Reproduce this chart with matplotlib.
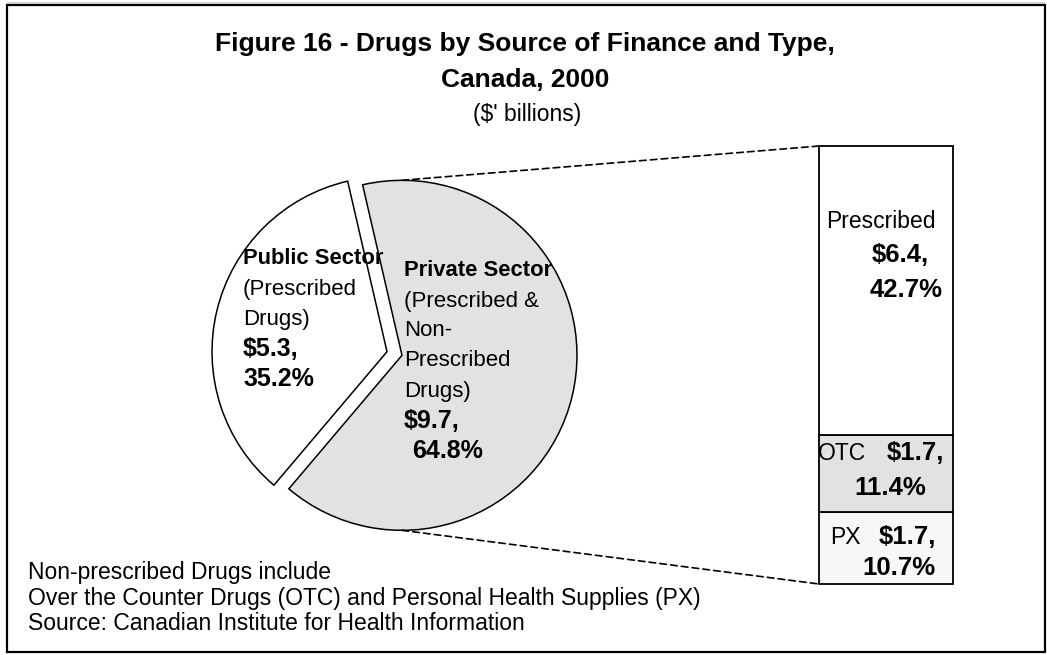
import matplotlib.pyplot as plt
import numpy as np
from matplotlib.patches import Rectangle, ConnectionPatch

plt.rcParams['font.family'] = ['Liberation Sans', 'DejaVu Sans']

W, H = 1047, 655

# pie: source of finance
sector_names = ['Public Sector', 'Private Sector']
sector_notes = [['(Prescribed', 'Drugs)'],
                ['(Prescribed &', 'Non-', 'Prescribed', 'Drugs)']]
sector_amount = [5.3, 9.7]
sector_pct = [35.2, 64.8]
sector_colors = ['white', '#e2e2e2']

# bar: private sector split by drug type (bottom to top)
type_names = ['PX', 'OTC', 'Prescribed']
type_amount = [1.7, 1.7, 6.4]
type_pct = [10.7, 11.4, 42.7]
type_colors = ['#f7f7f7', '#e2e2e2', 'white']

title = 'Figure 16 - Drugs by Source of Finance and Type,\nCanada, 2000'
subtitle = "($' billions)"
footnotes = ['Non-prescribed Drugs include',
             'Over the Counter Drugs (OTC) and Personal Health Supplies (PX)',
             'Source: Canadian Institute for Health Information']

fig = plt.figure(figsize=(W / 100, H / 100), dpi=100)
ax = fig.add_axes([0, 0, 1, 1])

# y runs downward so everything is placed in pixel-like units
wedges, _ = ax.pie(sector_pct, colors=sector_colors, startangle=-103,
                   counterclock=False, radius=175, center=(394.5, 353.5),
                   explode=[7.7, 7.7],
                   wedgeprops=dict(edgecolor='black', linewidth=1.1))
ax.set_xlim(0, W)
ax.set_ylim(H, 0)
ax.axis('off')

# outer frame
ax.plot([7, 1045], [2.5, 2.5], color='#c8c8c8', linewidth=1.2,
        solid_capstyle='butt', clip_on=False)
ax.add_patch(Rectangle((7, 5), 1038, 647, fill=False, edgecolor='black',
                       linewidth=1.6, clip_on=False))

ax.text(525, 62, title, ha='center', va='center', fontsize=19,
        fontweight='bold', linespacing=1.6)
ax.text(527, 115, subtitle, ha='center', va='center', fontsize=16.5)

for i, line in enumerate(footnotes):
    ax.text(28, 573 + 25 * i, line, ha='left', va='center', fontsize=16.5)

# pie labels
def sector_label(k, x, y0, dy, x_pct):
    lines = [(sector_names[k], 'bold', x, 15.8)]
    lines += [(s, 'normal', x, 16) for s in sector_notes[k]]
    lines += [(f'${sector_amount[k]:.1f},', 'bold', x, 18),
              (f'{sector_pct[k]:.1f}%', 'bold', x_pct, 18)]
    for j, (s, w, xx, fs) in enumerate(lines):
        ax.text(xx, y0 + dy * j, s, ha='left', va='center',
                fontsize=fs, fontweight=w)

sector_label(0, 243, 259, 30, 243)
sector_label(1, 404, 271, 30, 412)

# stacked bar for the private sector
bax = fig.add_axes([819 / W, (H - 584) / H, 134 / W, 438 / H])
bottoms = np.concatenate([[0], np.cumsum(type_pct)[:-1]])
bax.bar([0, 0, 0], type_pct, bottom=bottoms, width=1, color=type_colors,
        edgecolor='black', linewidth=1.3, clip_on=False)
total = sum(type_pct)
bax.set_xlim(-0.5, 0.5)
bax.set_ylim(0, total)
bax.axis('off')

# bar labels, placed in the same pixel units as the main axes
def bar_text(x, y, s, bold=False):
    bax.text(x, y, s, transform=ax.transData, ha='left', va='center',
             fontsize=18.5 if bold else 16.5,
             fontweight='bold' if bold else 'normal')

bar_text(826, 222, type_names[2])
bar_text(872, 255, f'${type_amount[2]:.1f},', True)
bar_text(870, 290, f'{type_pct[2]:.1f}%', True)
bar_text(818, 453, type_names[1])
bar_text(887, 453, f'${type_amount[1]:.1f},', True)
bar_text(854, 488, f'{type_pct[1]:.1f}%', True)
bar_text(830, 537, type_names[0])
bar_text(879, 537, f'${type_amount[0]:.1f},', True)
bar_text(862, 568, f'{type_pct[0]:.1f}%', True)

# dashed connectors from the private slice to the bar
cx, cy = wedges[1].center
r = wedges[1].r
for py, by in [(cy - r, total), (cy + r, 0)]:
    con = ConnectionPatch(xyA=(cx, py), coordsA=ax.transData,
                          xyB=(-0.5, by), coordsB=bax.transData,
                          color='black', linewidth=1.2,
                          linestyle=(0, (4, 2.5)))
    fig.add_artist(con)

fig.savefig('out.png', dpi=100)
